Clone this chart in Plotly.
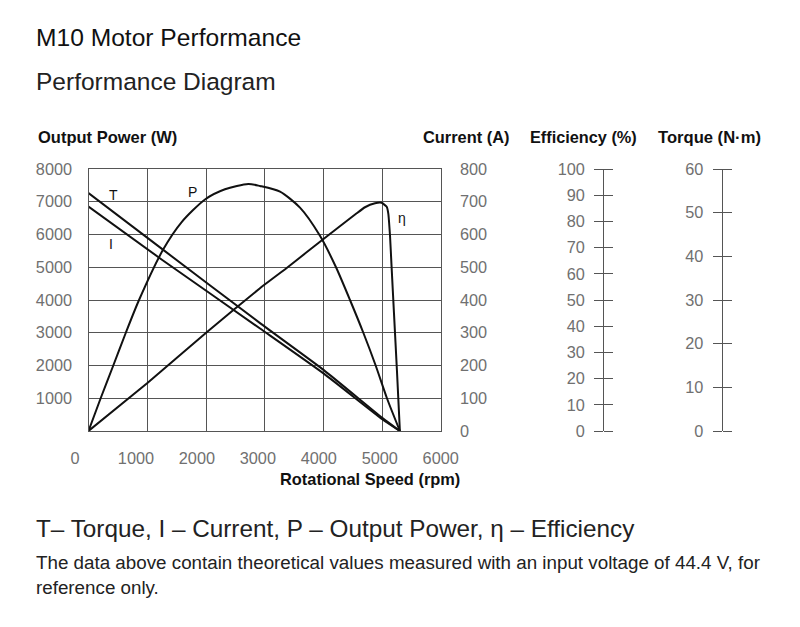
import plotly.graph_objects as go

W, H = 800, 627

# ---------------- data ----------------
speed_TI = [0, 1250, 2920, 4000, 5000, 5300]          # rpm
torque = [54.5, 41.7, 24.7, 14.0, 3.0, 0]             # N·m
current = [685, 523, 313, 176, 36, 0]                 # A

speed_P = [0, 207, 422, 635, 860, 1273, 1586, 1983, 2323, 2720, 2919,
           3260, 3600, 3940, 4213, 4451, 4678, 4888, 5080, 5300]
power = [0, 1000, 2000, 3000, 4000, 5548, 6380, 7070, 7380, 7545, 7481,
         7307, 6820, 5960, 5000, 4000, 3000, 2000, 1000, 0]          # W

speed_E = [0, 1008, 2012, 2919, 3401, 4000, 4565, 4706, 4877, 4989, 5076,
           5103, 5132, 5160, 5200, 5250, 5300]
efficiency = [0, 18.4, 37.7, 54.5, 62.7, 73.3, 83.1, 85.4, 86.9, 87.1, 85.6,
              83.0, 74.5, 62.2, 44.8, 23.1, 0]                      # %

speed_ticks = [0, 1000, 2000, 3000, 4000, 5000, 6000]
power_ticks = [1000, 2000, 3000, 4000, 5000, 6000, 7000, 8000]
current_ticks = [0, 100, 200, 300, 400, 500, 600, 700, 800]
eff_ticks = [0, 10, 20, 30, 40, 50, 60, 70, 80, 90, 100]
torque_ticks = [0, 10, 20, 30, 40, 50, 60]

curve_labels = ["T", "P", "I", "η"]
curve_label_x = [315, 1655, 320, 5230]
curve_label_y = [7206, 7289, 5716, 6519]

# ---------------- helpers (page pixels -> paper fractions) ----------------
def px(x):
    return x / W

def py(y):
    return 1 - y / H

FONT = "Liberation Sans, Arial, sans-serif"
TICKC = "#707070"
AXC = "#555555"
LINEC = "#111111"

plot_x = [px(88.5), px(441)]
plot_y = [py(431), py(169)]

fig = go.Figure()
fig.add_trace(go.Scatter(x=speed_TI, y=torque, mode="lines",
                         line=dict(color=LINEC, width=2, shape="spline", smoothing=0.5),
                         xaxis="x", yaxis="y4", name="T"))
fig.add_trace(go.Scatter(x=speed_TI, y=current, mode="lines",
                         line=dict(color=LINEC, width=2, shape="spline", smoothing=0.5),
                         xaxis="x", yaxis="y2", name="I"))
fig.add_trace(go.Scatter(x=speed_P, y=power, mode="lines",
                         line=dict(color=LINEC, width=2, shape="spline", smoothing=0.7),
                         xaxis="x", yaxis="y", name="P"))
fig.add_trace(go.Scatter(x=speed_E, y=efficiency, mode="lines",
                         line=dict(color=LINEC, width=2, shape="spline", smoothing=0.4),
                         xaxis="x", yaxis="y3", name="η"))
# empty traces so that helper axes are drawn
fig.add_trace(go.Scatter(x=[], y=[], xaxis="x", yaxis="y5", showlegend=False))
fig.add_trace(go.Scatter(x=[], y=[], xaxis="x", yaxis="y6", showlegend=False))
fig.add_trace(go.Scatter(x=[], y=[], xaxis="x2", yaxis="y7", showlegend=False))

tickfont = dict(family=FONT, size=16.3, color=TICKC)
NOAM = dict(automargin=False, zeroline=False, showgrid=False)

fig.update_layout(
    width=W, height=H,
    margin=dict(l=0, r=0, t=0, b=0, pad=0, autoexpand=False),
    paper_bgcolor="white", plot_bgcolor="rgba(0,0,0,0)",
    showlegend=False,
    xaxis=dict(domain=plot_x, range=[0, 6000], tickmode="array", tickvals=speed_ticks,
               showticklabels=False, ticks="", automargin=False, zeroline=False,
               showgrid=True, gridcolor=AXC, gridwidth=1.3,
               showline=True, linecolor=AXC, linewidth=1.3, mirror=True, anchor="y"),
    yaxis=dict(domain=plot_y, range=[0, 8000], tickmode="array", tickvals=power_ticks,
               ticks="", ticklabelstandoff=12, tickfont=tickfont, automargin=False,
               zeroline=False, showgrid=True, gridcolor=AXC, gridwidth=1.3,
               showline=True, linecolor=AXC, linewidth=1.3, mirror=True, anchor="x"),
    yaxis2=dict(overlaying="y", side="right", anchor="x", range=[0, 800], tickmode="array",
                tickvals=current_ticks, ticks="", ticklabelstandoff=18,
                tickfont=tickfont, showline=False, **NOAM),
    yaxis3=dict(overlaying="y", side="left", anchor="free", position=px(603.3), range=[0, 100],
                tickmode="array", tickvals=eff_ticks, ticks="outside", ticklen=9, tickcolor=AXC,
                tickwidth=1.3, tickfont=tickfont, ticklabelstandoff=6,
                showline=True, linecolor=AXC, linewidth=1.3, **NOAM),
    yaxis5=dict(overlaying="y", side="right", anchor="free", position=px(603.3), range=[0, 100],
                tickmode="array", tickvals=eff_ticks, ticks="outside", ticklen=9, tickcolor=AXC,
                tickwidth=1.3, showticklabels=False, showline=False, **NOAM),
    yaxis4=dict(overlaying="y", side="left", anchor="free", position=px(721.7), range=[0, 60],
                tickmode="array", tickvals=torque_ticks, ticks="outside", ticklen=9, tickcolor=AXC,
                tickwidth=1.3, tickfont=tickfont, ticklabelstandoff=6,
                showline=True, linecolor=AXC, linewidth=1.3, **NOAM),
    yaxis6=dict(overlaying="y", side="right", anchor="free", position=px(721.7), range=[0, 60],
                tickmode="array", tickvals=torque_ticks, ticks="outside", ticklen=9, tickcolor=AXC,
                tickwidth=1.3, showticklabels=False, showline=False, **NOAM),
    xaxis2=dict(domain=[px(75.0), px(440.7)], range=[0, 6000], anchor="y7", tickmode="array",
                tickvals=speed_ticks, ticks="", ticklabelstandoff=16,
                tickfont=tickfont, showline=False, **NOAM),
    yaxis7=dict(domain=plot_y, range=[0, 1], visible=False, anchor="x2", automargin=False),
)

ann = []
def text(x, y, s, size, color="#111", xanchor="left", weight="normal"):
    ann.append(dict(x=px(x), y=py(y), xref="paper", yref="paper", text=s, showarrow=False,
                    xanchor=xanchor, yanchor="middle",
                    font=dict(family=FONT, size=size, color=color, weight=weight)))

text(34, 37, "M10 Motor Performance", 24.6, "#111")
text(34, 81, "Performance Diagram", 24.5, "#222")
text(36, 137, "Output Power (W)", 16.5, "#111", weight="bold")
text(512, 137, "Current (A)", 16.4, "#111", xanchor="right", weight="bold")
text(528, 137, "Efficiency (%)", 16.3, "#111", weight="bold")
text(656, 137, "Torque (N·m)", 16.6, "#111", weight="bold")
text(462, 479, "Rotational Speed (rpm)", 16.4, "#111", xanchor="right", weight="bold")
text(34, 528, "T– Torque, I – Current, P – Output Power, η – Efficiency", 24.3, "#222")
text(34, 562, "The data above contain theoretical values measured with an input voltage of 44.4 V, for", 18.8, "#222")
text(34, 587, "reference only.", 18.8, "#222")

for s, x, y in zip(curve_labels, curve_label_x, curve_label_y):
    ann.append(dict(x=x, y=y, xref="x", yref="y", text=s, showarrow=False,
                    xanchor="left", yanchor="middle",
                    font=dict(family=FONT, size=14, color="#111")))

fig.update_layout(annotations=ann)
fig.write_html("out.html")
